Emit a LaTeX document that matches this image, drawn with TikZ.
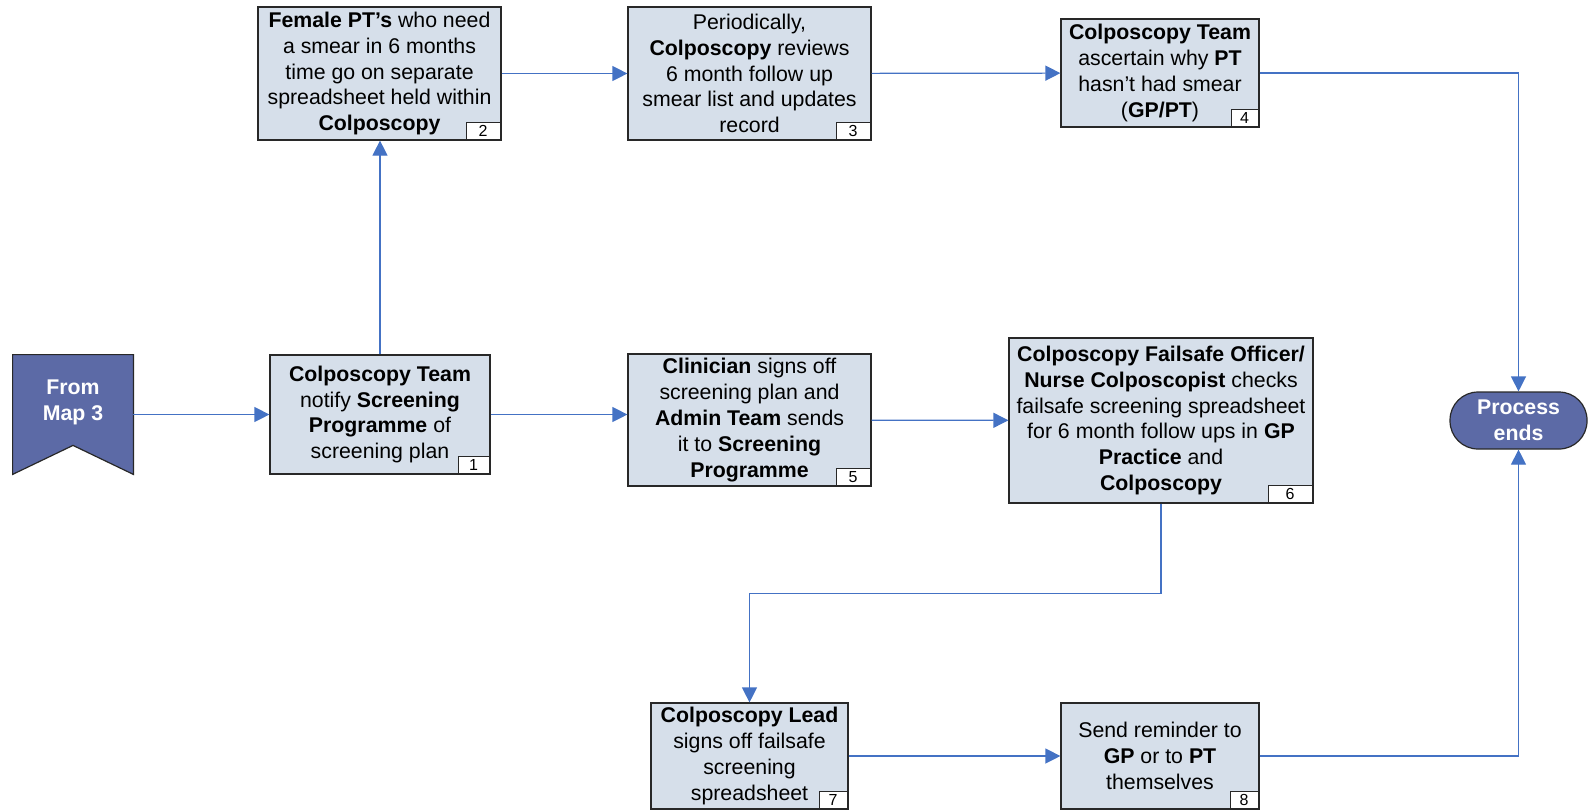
\documentclass[tikz,border=0pt]{standalone}
\usepackage{fontspec}
\setmainfont{Liberation Sans}
\usetikzlibrary{arrows.meta}

\definecolor{boxfill}{RGB}{214,223,234}
\definecolor{mapblue}{RGB}{92,106,166}
\definecolor{linkblue}{RGB}{68,114,196}
\definecolor{edge}{RGB}{40,40,40}

\tikzset{
	stepbox/.style={draw=edge, line width=0.6pt, fill=boxfill, align=center, inner sep=0pt,
		font=\fontsize{10.65}{12.9}\selectfont},
	tag/.style={draw=edge, line width=0.5pt, fill=white, inner sep=0pt, minimum height=8.5pt,
		anchor=south east, font=\fontsize{8}{9}\selectfont},
	link/.style={linkblue, line width=0.6pt, -{Triangle[length=7.5pt, width=7.5pt]}},
	whitetext/.style={text=white, align=center, inner sep=0pt,
		font=\fontsize{10.65}{12.9}\selectfont\bfseries},
}

\begin{document}
\begin{tikzpicture}[x=0.5pt, y=-0.5pt]
		\useasboundingbox (0, 0) rectangle (1588, 810);
		% boxes
		\node [stepbox, minimum width=110pt, minimum height=59.5pt] at (380, 414.5) (1) {\textbf{Colposcopy Team}\\notify \textbf{Screening}\\\textbf{Programme} of\\screening plan};
		\node [stepbox, minimum width=121.5pt, minimum height=66.5pt] at (379.5, 73.5) (2) {\textbf{Female PT’s} who need\\a smear in 6 months\\time go on separate\\spreadsheet held within\\\textbf{Colposcopy}};
		\node [stepbox, minimum width=121.5pt, minimum height=66.5pt] at (749.5, 73.5) (3) {Periodically,\\\textbf{Colposcopy} reviews\\6 month follow up\\smear list and updates\\record};
		\node [stepbox, minimum width=99pt, minimum height=54pt] at (1160, 73) (4) {\textbf{Colposcopy Team}\\ascertain why \textbf{PT}\\hasn’t had smear\\(\textbf{GP/PT})};
		\node [stepbox, minimum width=121.5pt, minimum height=66pt] at (749.5, 420) (5) {\textbf{Clinician} signs off\\screening plan and\\\textbf{Admin Team} sends\\it to \textbf{Screening}\\\textbf{Programme}};
		\node [stepbox, minimum width=152pt, minimum height=82.5pt] at (1161, 420.5) (6) {\textbf{Colposcopy Failsafe Officer/}\\\textbf{Nurse Colposcopist} checks\\failsafe screening spreadsheet\\for 6 month follow ups in \textbf{GP}\\\textbf{Practice} and\\\textbf{Colposcopy}};
		\node [stepbox, minimum width=98.5pt, minimum height=53pt] at (749.5, 756) (7) {\textbf{Colposcopy Lead}\\signs off failsafe\\screening\\spreadsheet};
		\node [stepbox, minimum width=99pt, minimum height=53pt] at (1160, 756) (8) {Send reminder to\\\textbf{GP} or to \textbf{PT}\\themselves};
		% number tags
		\node [tag, minimum width=15.5pt] at ([shift={(-0.5pt,0.5pt)}]1.south east) (t1) {1};
		\node [tag, minimum width=17pt] at ([shift={(-0.5pt,0.5pt)}]2.south east) (t2) {2};
		\node [tag, minimum width=17pt] at ([shift={(-0.5pt,0.5pt)}]3.south east) (t3) {3};
		\node [tag, minimum width=13.5pt] at ([shift={(-0.5pt,0.5pt)}]4.south east) (t4) {4};
		\node [tag, minimum width=17pt] at ([shift={(-0.5pt,0.5pt)}]5.south east) (t5) {5};
		\node [tag, minimum width=22pt] at ([shift={(-0.5pt,0.5pt)}]6.south east) (t6) {6};
		\node [tag, minimum width=14pt] at ([shift={(-0.5pt,0.5pt)}]7.south east) (t7) {7};
		\node [tag, minimum width=14pt] at ([shift={(-0.5pt,0.5pt)}]8.south east) (t8) {8};
		% start and end
		\node [minimum width=60pt, minimum height=59.5pt, inner sep=0pt] at (73, 414.5) (from) {};
		\draw [edge, line width=0.6pt, fill=mapblue] (from.north west) -- (from.north east) -- (from.south east) -- ([yshift=14.5pt]from.south) -- (from.south west) -- cycle;
		\node [whitetext] at (73, 402) (fromtext) {From\\Map 3};
		\node [whitetext, draw=edge, line width=0.6pt, fill=mapblue, rounded corners=14pt, minimum width=68.5pt, minimum height=28.5pt] at (1518.5, 420.5) (end) {Process\\ends};
		% connectors
		\draw [link] (from.east) -- (1.west);
		\draw [link] (1.north) -- (1.north |- 2.south);
		\draw [link] (2) -- (3);
		\draw [link] (3) -- (4);
		\draw [link] (4) -| (end);
		\draw [link] (1.east) -- (1.east -| 5.west);
		\draw [link] (5) -- (6);
		\draw [link] (6.south) -- ++(0, 90) -| (7.north);
		\draw [link] (7) -- (8);
		\draw [link] (8) -| (end);
	\end{tikzpicture}
\end{document}
